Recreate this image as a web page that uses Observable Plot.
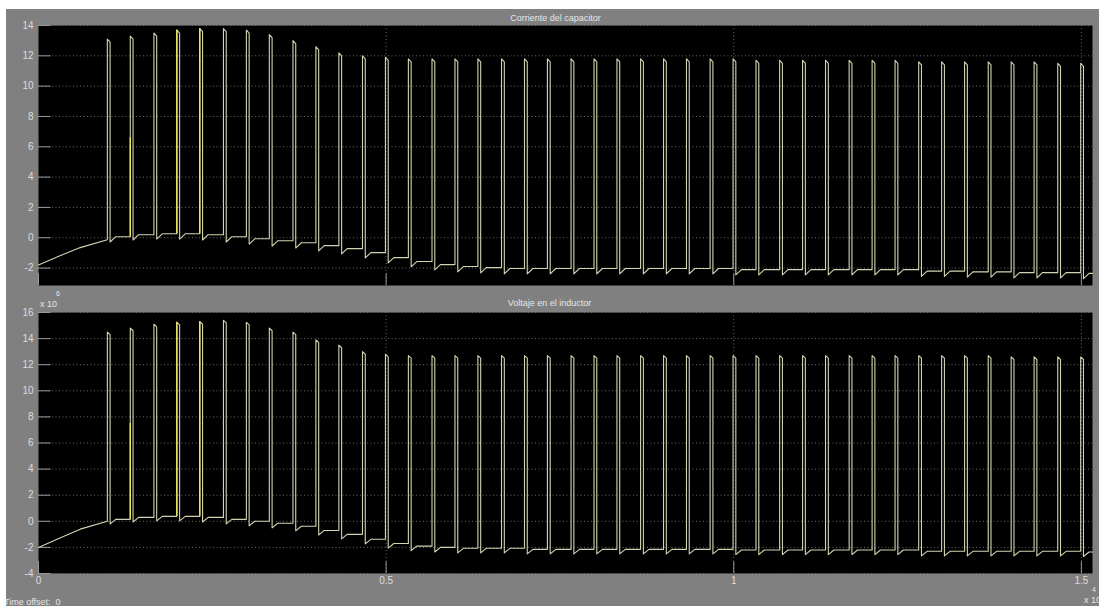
<!DOCTYPE html>
<html>
<head>
<meta charset="utf-8">
<script src="https://cdn.jsdelivr.net/npm/d3@7"></script>
<script src="https://cdn.jsdelivr.net/npm/@observablehq/plot@0.6"></script>
<style>
  html, body { margin: 0; padding: 0; background: #ffffff; width: 1099px; height: 606px; overflow: hidden; }
  #scope { position: absolute; left: 6px; top: 9px; width: 1093px; height: 597px; background: #808080; }
  .abs { position: absolute; font-family: "Liberation Sans", Arial, sans-serif; color: #e6e6e6; white-space: nowrap; }
  .title { font-size: 9px; }
  .small { font-size: 9px; }
  .sup { font-size: 7px; }
  svg { position: absolute; left: 0; }
</style>
</head>
<body>
<div id="scope"></div>
<div class="abs title" style="left:0;width:1099px;text-align:center;top:13px;padding-left:6px;">Corriente del capacitor</div>
<div class="abs title" style="left:0;width:1099px;text-align:center;top:298px;">Voltaje en el inductor</div>
<div class="abs small" style="left:40px;top:299px;">x 10</div>
<div class="abs sup" style="left:56px;top:290px;">6</div>
<div class="abs small" style="left:1084px;top:595px;">x 10</div>
<div class="abs sup" style="left:1092px;top:586px;">4</div>
<div class="abs small" style="left:4px;top:597px;">Time offset:&nbsp; 0</div>
<div id="top"></div>
<div id="bottom"></div>
<script>
// ---- data ----
const xTicks = [0, 0.5, 1, 1.5];
const topTicks = [-2, 0, 2, 4, 6, 8, 10, 12, 14];
const bottomTicks = [-4, -2, 0, 2, 4, 6, 8, 10, 12, 14, 16];

// times of the pulses (x axis units, x 10^4)
const spikeTimes = [0.099, 0.132, 0.166, 0.199, 0.232, 0.266, 0.299, 0.332, 0.366, 0.399,
  0.432, 0.466, 0.499, 0.532, 0.566, 0.599, 0.632, 0.666, 0.699, 0.732,
  0.766, 0.799, 0.832, 0.866, 0.899, 0.932, 0.966, 0.999, 1.032, 1.066,
  1.099, 1.132, 1.166, 1.199, 1.232, 1.266, 1.299, 1.332, 1.366, 1.399,
  1.432, 1.466, 1.499];

// Corriente del capacitor
const topPeaks = [13.1, 13.3, 13.5, 13.7, 13.8, 13.8, 13.7, 13.4, 13.0, 12.6,
  12.2, 12.0, 11.9, 11.8, 11.8, 11.8, 11.8, 11.8, 11.8, 11.8,
  11.8, 11.8, 11.8, 11.8, 11.8, 11.8, 11.8, 11.8, 11.7, 11.7,
  11.7, 11.7, 11.7, 11.7, 11.7, 11.6, 11.6, 11.6, 11.6, 11.6,
  11.6, 11.5, 11.5];
const topBase = [-0.13, 0.07, 0.2, 0.26, 0.26, 0.2, 0.07, -0.07, -0.2, -0.33,
  -0.52, -0.72, -0.98, -1.31, -1.57, -1.77, -1.9, -1.97, -2.03, -2.03,
  -2.03, -2.03, -2.03, -2.03, -2.03, -2.03, -2.03, -2.03, -2.1, -2.1,
  -2.1, -2.1, -2.1, -2.1, -2.1, -2.1, -2.2, -2.2, -2.25, -2.25,
  -2.3, -2.3, -2.3];
const topStartT = [0, 0.03, 0.06];
const topStartV = [-1.8, -1.2, -0.65];
const topEnd = {t: 1.516, v: -2.35};
const topHighlight = [{t: 0.132, v: 6.6}, {t: 0.199, v: 13.7}, {t: 0.232, v: 13.8}];

// Voltaje en el inductor
const bottomPeaks = [14.5, 14.8, 15.1, 15.25, 15.3, 15.4, 15.25, 14.8, 14.5, 13.9,
  13.5, 13.0, 12.8, 12.7, 12.7, 12.7, 12.7, 12.7, 12.7, 12.7,
  12.7, 12.7, 12.7, 12.7, 12.7, 12.7, 12.7, 12.7, 12.7, 12.7,
  12.7, 12.7, 12.7, 12.7, 12.7, 12.7, 12.7, 12.7, 12.7, 12.6,
  12.6, 12.6, 12.6];
const bottomBase = [0, 0.15, 0.3, 0.38, 0.38, 0.3, 0.15, 0, -0.15, -0.38,
  -0.7, -1.0, -1.38, -1.7, -1.9, -2.0, -2.07, -2.07, -2.07, -2.15,
  -2.15, -2.15, -2.15, -2.15, -2.15, -2.15, -2.15, -2.15, -2.2, -2.2,
  -2.2, -2.2, -2.2, -2.2, -2.2, -2.2, -2.3, -2.3, -2.3, -2.3,
  -2.3, -2.3, -2.3];
const bottomStartT = [0, 0.03, 0.06];
const bottomStartV = [-2.0, -1.3, -0.6];
const bottomEnd = {t: 1.516, v: -2.35};
const bottomHighlight = [{t: 0.132, v: 7.5}, {t: 0.199, v: 15.25}, {t: 0.232, v: 15.3}];

// pulse shape
const pulseWidth = 0.004;   // width of each pulse
const pulseDroop = 0.2;     // slope on top of each pulse
const notchDepth = 0.35;    // undershoot after each pulse
const notchRecovery = 0.008;

// ---- build the traces ----
function trace(startT, startV, base, peaks, end) {
  const pts = startT.map((t, i) => ({t, v: startV[i]}));
  spikeTimes.forEach((t, k) => {
    const next = k + 1 < base.length ? base[k + 1] : end.v;
    pts.push({t, v: base[k]});
    pts.push({t, v: peaks[k]});
    pts.push({t: t + pulseWidth, v: peaks[k] - pulseDroop});
    pts.push({t: t + pulseWidth, v: next - notchDepth});
    pts.push({t: t + pulseWidth + notchRecovery, v: next});
  });
  pts.push(end);
  return pts;
}

const axisColor = "#dcdcdc";
const lineColor = "#d4d4b2";
const gridColor = "#686868";
const fontFamily = "Liberation Sans, Arial, sans-serif";

function panel({ticks, domain, data, highlight, base, marginTop, marginBottom, height, showX}) {
  const hl = highlight.map(h => ({t: h.t, v: h.v, b: base[spikeTimes.indexOf(h.t)]}));
  const marks = [
    Plot.frame({fill: "black"}),
    Plot.ruleY(ticks, {stroke: gridColor, strokeDasharray: "1,2.5", strokeWidth: 1}),
    Plot.ruleX(xTicks.slice(1), {stroke: gridColor, strokeDasharray: "1,2.5", strokeWidth: 1}),
    Plot.ruleY(ticks, {x1: 0, x2: 0.018, stroke: "#9a9a9a"}),
    Plot.ruleX(xTicks, {y1: domain[0], y2: domain[0] + (domain[1] - domain[0]) * 0.045, stroke: "#9a9a9a"}),
    Plot.line(data, {x: "t", y: "v", stroke: lineColor, strokeWidth: 1.1, curve: "linear"}),
    Plot.ruleX(hl, {x: "t", y1: "b", y2: "v", stroke: "#f4f060", strokeWidth: 1.3}),
    Plot.axisY(ticks, {tickSize: 0, tickPadding: 5, tickFormat: d => String(d), fill: axisColor, fontSize: 10, label: null})
  ];
  if (showX) marks.push(Plot.axisX(xTicks, {tickSize: 0, tickPadding: 3, tickFormat: d => String(d), fill: axisColor, fontSize: 10, label: null}));
  return Plot.plot({
    width: 1099,
    height,
    marginLeft: 38,
    marginRight: 7,
    marginTop,
    marginBottom,
    style: {background: "transparent", fontFamily, fontSize: "10px", overflow: "visible"},
    x: {domain: [0, 1.516], axis: showX ? undefined : null, label: null},
    y: {domain, label: null},
    marks
  });
}

const topChart = panel({
  ticks: topTicks, domain: [-3.15, 14],
  data: trace(topStartT, topStartV, topBase, topPeaks, topEnd),
  highlight: topHighlight, base: topBase,
  marginTop: 25, marginBottom: 15, height: 300, showX: false
});
topChart.style.top = "0px";
document.getElementById("top").appendChild(topChart);

const bottomChart = panel({
  ticks: bottomTicks, domain: [-4, 16],
  data: trace(bottomStartT, bottomStartV, bottomBase, bottomPeaks, bottomEnd),
  highlight: bottomHighlight, base: bottomBase,
  marginTop: 22, marginBottom: 33, height: 316, showX: true
});
bottomChart.style.top = "290px";
document.getElementById("bottom").appendChild(bottomChart);
</script>
</body>
</html>
